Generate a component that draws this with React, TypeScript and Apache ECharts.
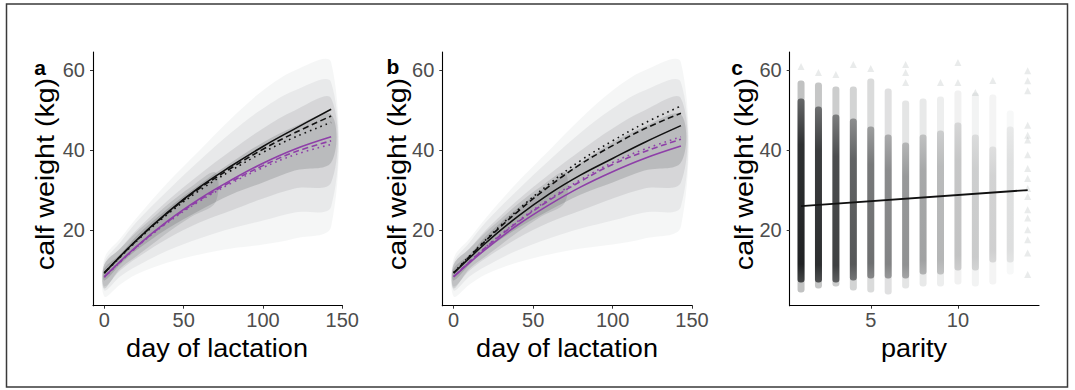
import React, { useEffect, useRef } from "react";
import * as echarts from "echarts";

// ---------- data ----------
const curveDays = [0, 20, 40, 60, 80, 100, 120, 143];

// panel a
const aBlackSolid = [9.4, 17.5, 24.6, 30.8, 36.1, 41.0, 45.4, 50.3];
const aBlackDashed = [9.4, 17.4, 24.4, 30.5, 35.6, 40.3, 44.4, 48.6];
const aBlackDotted = [9.3, 17.2, 24.1, 30.0, 35.0, 39.5, 43.3, 47.0];
const aPurpleSolid = [8.4, 15.9, 22.4, 27.9, 32.6, 36.8, 40.3, 43.4];
const aPurpleDashed = [8.4, 15.8, 22.2, 27.6, 32.2, 36.2, 39.6, 42.4];
const aPurpleDotted = [8.3, 15.7, 22.0, 27.3, 31.8, 35.7, 38.9, 41.5];

// panel b
const bBlackDotted = [9.5, 17.6, 25.0, 31.6, 37.5, 42.4, 46.8, 51.1];
const bBlackDashed = [9.4, 17.4, 24.6, 31.0, 36.6, 41.2, 45.4, 49.3];
const bBlackSolid = [9.3, 16.8, 23.4, 29.1, 33.9, 38.0, 42.0, 46.2];
const bPurpleDotted = [8.5, 15.8, 22.2, 27.8, 32.7, 37.0, 40.3, 43.4];
const bPurpleDashed = [8.5, 15.7, 22.0, 27.5, 32.3, 36.5, 39.7, 42.8];
const bPurpleSolid = [8.4, 15.3, 21.3, 26.4, 30.9, 34.7, 38.0, 41.1];

// point cloud envelopes (day of lactation vs calf weight)
const cloudDays = [0, 10, 20, 40, 60, 80, 100, 120, 143];
const cloudOuterLow = [3.5, 6.5, 9.0, 12.0, 14.0, 15.5, 16.5, 18.0, 21.0];
const cloudOuterHigh = [13.0, 18.0, 23.0, 32.0, 40.0, 48.0, 55.0, 60.0, 62.0];
const cloudOuter2Low = [5.0, 8.5, 11.0, 15.0, 18.0, 20.5, 22.5, 24.5, 26.0];
const cloudOuter2High = [12.0, 17.0, 22.0, 30.0, 37.5, 44.5, 50.5, 55.0, 57.0];
const cloudMidLow = [6.0, 10.0, 13.0, 18.0, 22.0, 25.0, 28.0, 30.5, 32.0];
const cloudMidHigh = [11.5, 15.5, 20.0, 27.5, 34.0, 40.0, 45.5, 50.0, 53.0];
const cloudCoreLow = [7.5, 11.5, 15.0, 20.5, 25.0, 29.0, 32.0, 35.0, 37.0];
const cloudCoreHigh = [10.5, 14.0, 18.5, 25.5, 31.5, 37.0, 42.0, 46.0, 49.0];
// denser early part of the cloud
const earlyDays = [0, 10, 20, 30, 40, 55, 70];
const earlyLow = [5.5, 10.5, 13.5, 16.5, 19.5, 23.5, 27.0];
const earlyHigh = [11.5, 15.5, 19.5, 23.0, 26.5, 31.0, 34.5];

// panel c: parity columns
const parities = [1, 2, 3, 4, 5, 6, 7, 8, 9, 10, 11, 12, 13];
const parityMin = [4.5, 5.5, 6.0, 5.0, 4.5, 4.0, 5.5, 6.0, 6.0, 6.5, 6.0, 6.5, 9.0];
const parityMax = [57.5, 57.0, 56.0, 56.0, 58.0, 55.5, 52.5, 53.0, 53.5, 55.0, 54.5, 54.0, 50.0];
const parityCoreLow = [7.0, 7.0, 7.0, 7.5, 8.0, 8.0, 8.0, 9.0, 9.0, 10.0, 10.0, 12.0, 12.0];
const parityCoreHigh = [53.0, 51.0, 49.0, 48.0, 46.0, 44.0, 42.0, 44.0, 45.0, 47.0, 44.0, 41.0, 46.0];
const parityDensity = [0.97, 0.9, 0.8, 0.68, 0.57, 0.48, 0.42, 0.35, 0.27, 0.22, 0.19, 0.17, 0.12];
// isolated points (parity, weight)
const parityOutliers = [
  [1, 61.0], [2, 59.5], [3, 59.0], [4, 61.5], [5, 60.5], [7, 61.5], [7, 59.5], [7, 57.0],
  [9, 57.0], [10, 62.0], [10, 57.0], [12, 57.5], [11, 54.5],
  [14, 59.9], [14, 57.4], [14, 54.9], [14, 46.3], [14, 43.8], [14, 42.6], [14, 38.9],
  [14, 35.5], [14, 33.0], [14, 30.5], [14, 28.5], [14, 25.2], [14, 23.1], [14, 20.2],
  [14, 17.7], [14, 14.4], [14, 9.0],
];
const parityFitX = [1, 14];
const parityFitY = [26.1, 30.1];

const dayTicks = [0, 50, 100, 150];
const weightTicks = [20, 40, 60];
const parityTicks = [5, 10];

// ---------- styling ----------
const FONT = "'Liberation Sans', Arial, Helvetica, sans-serif";
const PURPLE = "#8e3fa8";
const BLACK = "#111111";
const DASH = [6, 3.5];
const DOT = [1.6, 4];

const gridTop = 52;
const gridHeight = 253.7;
const grids = [
  { left: 93, top: gridTop, width: 249.5, height: gridHeight },
  { left: 442.3, top: gridTop, width: 250, height: gridHeight },
  { left: 789.7, top: gridTop, width: 249.3, height: gridHeight },
];

function makeXAxis(idx: number, min: number, max: number, ticks: number[]) {
  return {
    type: "value",
    gridIndex: idx,
    min,
    max,
    splitLine: { show: false },
    axisLine: { show: true, onZero: false, lineStyle: { color: "#000", width: 1.1 } },
    axisTick: { show: true, length: 3, customValues: ticks, lineStyle: { color: "#333" } },
    axisLabel: { customValues: ticks, fontSize: 20, color: "#4d4d4d", fontFamily: FONT, margin: 4 },
  };
}
function makeYAxis(idx: number) {
  return {
    type: "value",
    gridIndex: idx,
    min: 1.2,
    max: 64.6,
    splitLine: { show: false },
    axisLine: { show: true, onZero: false, lineStyle: { color: "#000", width: 1.1 } },
    axisTick: { show: true, length: 3, customValues: weightTicks, lineStyle: { color: "#333" } },
    axisLabel: { customValues: weightTicks, fontSize: 20, color: "#4d4d4d", fontFamily: FONT, margin: 8 },
  };
}

function bandSeries(axis: number, xs: number[], low: number[], high: number[], fill: string) {
  return {
    type: "custom",
    xAxisIndex: axis,
    yAxisIndex: axis,
    silent: true,
    z: 1,
    data: xs.map((d, i) => [d, low[i], high[i]]),
    encode: { x: 0, y: [1, 2] },
    renderItem: (params: any, api: any) => {
      if (params.dataIndex !== 0) return { type: "group", children: [] };
      const pts: number[][] = [];
      for (let i = 0; i < xs.length; i++) pts.push(api.coord([xs[i], high[i]]));
      for (let i = xs.length - 1; i >= 0; i--) pts.push(api.coord([xs[i], low[i]]));
      return {
        type: "polygon",
        shape: { points: pts, smooth: 0.35 },
        style: { fill },
      };
    },
  };
}

function curve(axis: number, vals: number[], color: string, type: any, z = 5) {
  return {
    type: "line",
    xAxisIndex: axis,
    yAxisIndex: axis,
    data: curveDays.map((d, i) => [d, vals[i]]),
    smooth: 0.4,
    showSymbol: false,
    silent: true,
    z,
    lineStyle: { color, width: 1.6, type },
  };
}

function cloudFor(axis: number) {
  return [
    bandSeries(axis, cloudDays, cloudOuterLow, cloudOuterHigh, "rgba(120,128,132,0.07)"),
    bandSeries(axis, cloudDays, cloudOuter2Low, cloudOuter2High, "rgba(110,116,120,0.09)"),
    bandSeries(axis, cloudDays, cloudMidLow, cloudMidHigh, "rgba(90,96,100,0.13)"),
    bandSeries(axis, cloudDays, cloudCoreLow, cloudCoreHigh, "rgba(60,64,66,0.18)"),
    bandSeries(axis, earlyDays, earlyLow, earlyHigh, "rgba(50,54,56,0.13)"),
  ];
}

export default function App() {
  const ref = useRef<HTMLDivElement>(null);

  useEffect(() => {
    document.body.style.margin = "0";
    document.body.style.overflow = "hidden";
    if (!ref.current) return;
    const chart = echarts.init(ref.current, undefined, { renderer: "svg" });

    const columns = {
      type: "custom",
      xAxisIndex: 2,
      yAxisIndex: 2,
      silent: true,
      z: 2,
      data: parities.map((p, i) => [p, parityMin[i], parityMax[i], parityCoreLow[i], parityCoreHigh[i], parityDensity[i]]),
      encode: { x: 0, y: [1, 2] },
      renderItem: (params: any, api: any) => {
        const x = api.value(0);
        const a = api.value(5);
        const top = api.coord([x, api.value(2)]);
        const bot = api.coord([x, api.value(1)]);
        const cTop = api.coord([x, api.value(4)]);
        const cBot = api.coord([x, api.value(3)]);
        const w = 7;
        return {
          type: "group",
          children: [
            {
              type: "rect",
              shape: { x: top[0] - w / 2, y: top[1], width: w, height: bot[1] - top[1], r: 3 },
              style: { fill: `rgba(40,44,46,${(a * 0.3).toFixed(3)})` },
            },
            {
              type: "rect",
              shape: { x: cTop[0] - w / 2, y: cTop[1], width: w, height: cBot[1] - cTop[1], r: 3 },
              style: {
                fill: new echarts.graphic.LinearGradient(0, 0, 0, 1, [
                  { offset: 0, color: `rgba(22,24,26,${(a * 0.55).toFixed(3)})` },
                  { offset: 0.25, color: `rgba(22,24,26,${(a * 0.88).toFixed(3)})` },
                  { offset: 0.9, color: `rgba(22,24,26,${(a * 0.97).toFixed(3)})` },
                  { offset: 1, color: `rgba(22,24,26,${(a * 0.75).toFixed(3)})` },
                ]),
              },
            },
          ],
        };
      },
    };

    const option: any = {
      animation: false,
      grid: grids,
      xAxis: [
        makeXAxis(0, -7.15, 150.15, dayTicks),
        makeXAxis(1, -7.15, 150.15, dayTicks),
        makeXAxis(2, 0.35, 14.65, parityTicks),
      ],
      yAxis: [makeYAxis(0), makeYAxis(1), makeYAxis(2)],
      series: [
        ...cloudFor(0),
        ...cloudFor(1),
        curve(0, aBlackSolid, BLACK, "solid"),
        curve(0, aBlackDashed, BLACK, DASH),
        curve(0, aBlackDotted, BLACK, DOT),
        curve(0, aPurpleSolid, PURPLE, "solid"),
        curve(0, aPurpleDashed, PURPLE, DASH),
        curve(0, aPurpleDotted, PURPLE, DOT),
        curve(1, bBlackDotted, BLACK, DOT),
        curve(1, bBlackDashed, BLACK, DASH),
        curve(1, bBlackSolid, BLACK, "solid"),
        curve(1, bPurpleDotted, PURPLE, DOT),
        curve(1, bPurpleDashed, PURPLE, DASH),
        curve(1, bPurpleSolid, PURPLE, "solid"),
        columns,
        {
          type: "scatter",
          xAxisIndex: 2,
          yAxisIndex: 2,
          silent: true,
          z: 3,
          symbol: "triangle",
          symbolSize: 7,
          itemStyle: { color: "rgba(120,130,130,0.2)" },
          data: parityOutliers,
        },
        {
          type: "line",
          xAxisIndex: 2,
          yAxisIndex: 2,
          silent: true,
          z: 6,
          showSymbol: false,
          data: parityFitX.map((p, i) => [p, parityFitY[i]]),
          lineStyle: { color: BLACK, width: 1.8 },
        },
      ],
      graphic: [
        {
          type: "rect",
          silent: true,
          shape: { x: 6.5, y: 4, width: 1061, height: 383 },
          style: { fill: "none", stroke: "#3a3a3a", lineWidth: 1.5 },
        },
        ...[
          { x: 45, y: 174, s: "calf weight (kg)" },
          { x: 397, y: 174, s: "calf weight (kg)" },
          { x: 744, y: 174, s: "calf weight (kg)" },
        ].map((t) => ({
          type: "text",
          silent: true,
          x: t.x,
          y: t.y,
          rotation: Math.PI / 2,
          scaleX: 1.1,
          style: {
            text: t.s,
            fontSize: 26,
            fontFamily: FONT,
            fill: "#000",
            align: "center",
            verticalAlign: "middle",
          },
        })),
        ...[
          { x: 217, y: 348, s: "day of lactation" },
          { x: 567, y: 348, s: "day of lactation" },
          { x: 914, y: 348, s: "parity" },
        ].map((t) => ({
          type: "text",
          silent: true,
          x: t.x,
          y: t.y,
          scaleX: 1.04,
          style: {
            text: t.s,
            fontSize: 26,
            fontFamily: FONT,
            fill: "#000",
            align: "center",
            verticalAlign: "middle",
          },
        })),
        ...[
          { x: 40, y: 67, s: "a" },
          { x: 393, y: 66, s: "b" },
          { x: 737, y: 67, s: "c" },
        ].map((t) => ({
          type: "text",
          silent: true,
          x: t.x,
          y: t.y,
          style: {
            text: t.s,
            fontSize: 21,
            fontWeight: "bold",
            fontFamily: FONT,
            fill: "#000",
            align: "center",
            verticalAlign: "middle",
          },
        })),
      ],
    };

    chart.setOption(option);
    return () => chart.dispose();
  }, []);

  return <div ref={ref} style={{ width: 1075, height: 390 }} />;
}
